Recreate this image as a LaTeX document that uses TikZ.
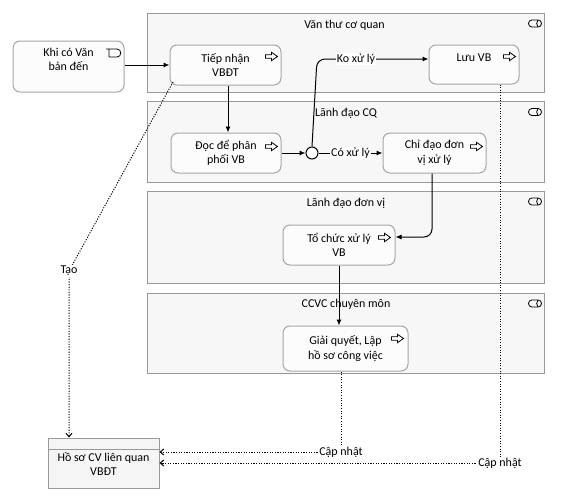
\documentclass[tikz,border=0pt]{standalone}
\usepackage{fontspec}
\setmainfont{Carlito}
\usetikzlibrary{arrows.meta}
\begin{document}
\begin{tikzpicture}[x=1pt,y=-1pt, font=\fontsize{12}{14.5}\selectfont,
 lane/.style={draw=gray!80, fill=gray!6, line width=1pt},
 task/.style={draw=gray!70, fill=gray!2, rounded corners=7pt, line width=1pt, align=center, inner sep=0pt},
 flow/.style={-{Latex[length=6pt,width=5pt]}, line width=1pt},
 assoc/.style={-{Straight Barb[length=3.5pt,width=6pt]}, line width=1pt, dash pattern=on 1.1pt off 1.5pt},
 lbl/.style={fill=white, inner sep=1pt},
 lanetitle/.style={inner sep=0pt},
 tico/.pic={\draw[line width=0.8pt, fill=white] (0,-1.8) -- (6,-1.8) -- (6,-4.2) -- (12,0) -- (6,4.2) -- (6,1.8) -- (0,1.8) -- cycle;},
 lico/.pic={\draw[line width=0.8pt, rounded corners=3.4pt] (-6.5,-3.5) rectangle (6.5,3.5);
            \draw[line width=0.8pt] (3,-3.5) .. controls (1.2,-1.5) and (1.2,1.5) .. (3,3.5);},
 eico/.pic={\draw[line width=0.8pt] (3,8) -- (3,0) -- (0,0) -- (11,0) .. controls (16,0) and (16,8) .. (11,8) -- (3,8);}
]
\fill[white] (0,0) rectangle (576,499);
\useasboundingbox (0,0) rectangle (576,499);

% lanes
\draw[lane] (147,13) rectangle (544,92);
\draw[lane] (147,101) rectangle (544,182);
\draw[lane] (147,191) rectangle (544,283);
\draw[lane] (147,293) rectangle (544,373);
\node[lanetitle] (t1) at (344.5,25) {Văn thư cơ quan};
\node[lanetitle] (t2) at (346,113) {Lãnh đạo CQ};
\node[lanetitle] (t3) at (346,203) {Lãnh đạo đơn vị};
\node[lanetitle] (t4) at (346,304) {CCVC chuyên môn};
\pic at (535,23.5) {lico};
\pic at (535,112) {lico};
\pic at (535,201.5) {lico};
\pic at (535,303.5) {lico};

% nodes
\node[task, minimum width=111pt, minimum height=51pt] (khi) at (68.5,66.5) {Khi có Văn\\bản đến\\\mbox{}};
\pic at (106,49) {eico};
\node[task, minimum width=111pt, minimum height=40pt] (tiep) at (225.5,65) {Tiếp nhận\\VBĐT};
\node[task, minimum width=90pt, minimum height=39pt] (luu) at (474,64.5) {Lưu VB\\\mbox{}};
\node[task, minimum width=110pt, minimum height=40pt] (doc) at (226,153) {Đọc để phân\\phối VB};
\node[circle, draw, line width=1pt, fill=white, minimum size=12pt, inner sep=0pt] (gw) at (312,153) {};
\node[task, minimum width=103pt, minimum height=40pt] (chi) at (434.5,153) {Chỉ đạo đơn\\vị xử lý};
\node[task, minimum width=112pt, minimum height=40pt] (to) at (339,245) {Tổ chức xử lý\\VB};
\node[task, minimum width=125pt, minimum height=45pt] (giai) at (345.5,348.5) {Giải quyết, Lập\\hồ sơ công việc};
\node[draw=gray!80, fill=gray!8, line width=1pt, minimum width=111pt, minimum height=50pt, inner sep=0pt] (hoso) at (103.5,463) {};
\draw[gray!80, line width=1pt] (hoso.west |- 0,449) -- (hoso.east |- 0,449);
\node[inner sep=0pt, align=center] (hosot) at (103.5,464) {Hồ sơ CV liên quan\\VBĐT};

\pic at ([xshift=-16pt,yshift=-12pt]tiep.north east) {tico};
\pic at ([xshift=-16pt,yshift=-12pt]luu.north east) {tico};
\pic at ([xshift=-16pt,yshift=-14pt]doc.north east) {tico};
\pic at ([xshift=-16pt,yshift=-14pt]chi.north east) {tico};
\pic at ([xshift=-17pt,yshift=-13pt]to.north east) {tico};
\pic at ([xshift=-17pt,yshift=-13pt]giai.north east) {tico};

% sequence flows
\draw[flow] (khi.east |- tiep.west) -- (tiep.west);
\draw[flow] ([xshift=2.5pt]tiep.south) -- ([xshift=2.5pt]tiep.south |- doc.north);
\draw[flow] (doc.east) -- (gw.west);
\coordinate (kb) at (317,59);
\draw[flow, rounded corners=8pt] (gw.north) -- (kb) -- (kb -| luu.west);
\node[lbl] (ko) at (356,59) {Ko xử lý};
\draw[flow] (gw.east) -- node[lbl, pos=0.5] (co) {Có xử lý} (chi.west);
\coordinate (kc) at (432,237);
\draw[flow, rounded corners=8pt] (chi.south -| kc) -- (kc) -- (kc -| to.east);
\draw[flow] (to.south) -- (to.south |- giai.north);

% associations
\coordinate (tc) at (173,82);
\coordinate (taoc) at (69,271);
\draw[assoc] (tc) -- (taoc) -- (taoc |- hoso.north);
\node[lbl] (tao) at (taoc) {Tạo};
\coordinate (c1) at (341,452);
\draw[assoc] (giai.south -| c1) -- (c1) -- (c1 -| hoso.east);
\node[lbl] (cn1) at (c1) {Cập nhật};
\coordinate (c2) at (500,463);
\draw[assoc] (luu.south -| c2) -- (c2) -- (c2 -| hoso.east);
\node[lbl] (cn2) at (c2) {Cập nhật};
\end{tikzpicture}
\end{document}
